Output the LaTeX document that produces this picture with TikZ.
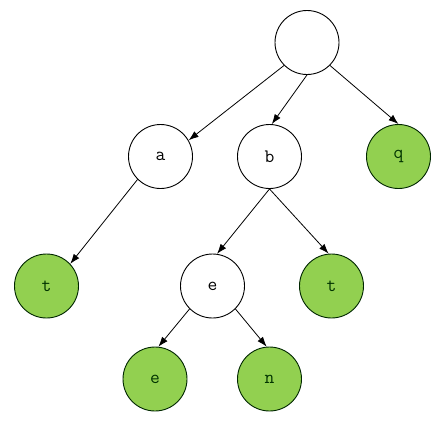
\documentclass[tikz,border=0pt]{standalone}
\usepackage{fontspec}
\usetikzlibrary{arrows.meta}
\definecolor{leafgreen}{HTML}{92D050}
\begin{document}
\begin{tikzpicture}[x=1pt,y=-1pt,
  tn/.style={circle,draw=black,line width=0.9pt,minimum size=64pt,inner sep=0pt,font=\ttfamily\fontsize{19}{19}\selectfont},
  leaf/.style={tn,fill=leafgreen,draw=black!85!green,text=black!80!green},
  edge/.style={line width=0.8pt,-{Latex[length=10pt,width=7pt]}}]
\useasboundingbox (0,0) rectangle (442,432);
\node[tn] (root) at (307,42.5) {};
\node[tn] (a) at (160.5,156.5) {a};
\node[tn] (b) at (269.5,156.5) {b};
\node[leaf] (q) at (398.5,156.5) {q};
\node[leaf] (t1) at (46.5,286) {t};
\node[tn] (e) at (212.5,286) {e};
\node[leaf] (t2) at (331.5,286) {t};
\node[leaf] (e2) at (155,379) {e};
\node[leaf] (n) at (269.5,379) {n};
\draw[edge] (root.225) -- (a.30);
\draw[edge] (root.south) -- (b.86);
\draw[edge] (root.-45) -- (q.north);
\draw[edge] (a.225) -- (t1.43);
\draw[edge] (b.south) -- (e.82);
\draw[edge] (b.south) -- (t2.95);
\draw[edge] (e.225) -- (e2.84);
\draw[edge] (e.-45) -- (n.95);
\end{tikzpicture}
\end{document}
